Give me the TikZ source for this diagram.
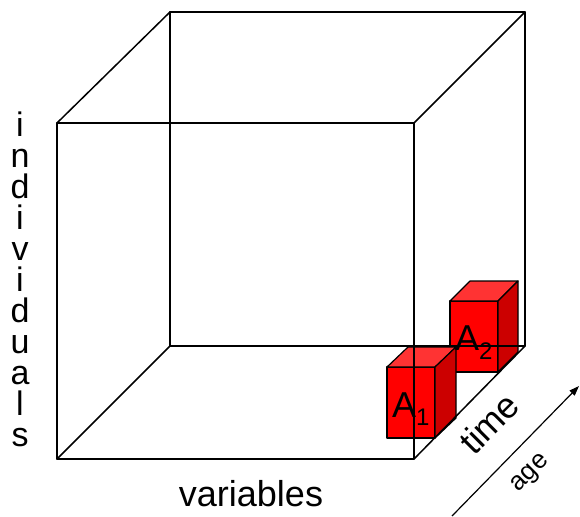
\documentclass[tikz,border=0pt]{standalone}
\usepackage{fontspec}
\setmainfont{Liberation Sans}
\usetikzlibrary{arrows.meta}
\definecolor{cubefront}{RGB}{255,0,0}
\definecolor{cubetop}{RGB}{255,51,51}
\definecolor{cubeside}{RGB}{204,0,0}
\begin{document}
\begin{tikzpicture}[x=1pt,y=-1pt,
  edge/.style={line width=1.5pt, line cap=round, line join=round},
  boxline/.style={draw=black, line width=1.2pt, line join=round},
  lbl/.style={inner sep=0pt, outer sep=0pt}]
\useasboundingbox (0,0) rectangle (580,516);

% ---- small cube A2 ----
\coordinate (a2f1) at (450,301); \coordinate (a2f2) at (498,301);
\coordinate (a2f3) at (498,372); \coordinate (a2f4) at (450,372);
\coordinate (a2b1) at (470,281); \coordinate (a2b2) at (518,281);
\coordinate (a2b3) at (518,352);
\filldraw[boxline, fill=cubefront] (a2f1) -- (a2f2) -- (a2f3) -- (a2f4) -- cycle;
\filldraw[boxline, fill=cubetop] (a2f1) -- (a2b1) -- (a2b2) -- (a2f2) -- cycle;
\filldraw[boxline, fill=cubeside] (a2f2) -- (a2b2) -- (a2b3) -- (a2f3) -- cycle;

% ---- small cube A1 ----
\coordinate (a1f1) at (387,367); \coordinate (a1f2) at (435,367);
\coordinate (a1f3) at (435,438); \coordinate (a1f4) at (387,438);
\coordinate (a1b1) at (408,347); \coordinate (a1b2) at (456,347);
\coordinate (a1b3) at (456,418);
\filldraw[boxline, fill=cubefront] (a1f1) -- (a1f2) -- (a1f3) -- (a1f4) -- cycle;
\filldraw[boxline, fill=cubetop] (a1f1) -- (a1b1) -- (a1b2) -- (a1f2) -- cycle;
\filldraw[boxline, fill=cubeside] (a1f2) -- (a1b2) -- (a1b3) -- (a1f3) -- cycle;

% ---- big wireframe cube ----
\coordinate (F1) at (57,123);  \coordinate (F2) at (414,123);
\coordinate (F3) at (414,459); \coordinate (F4) at (57,459);
\coordinate (B1) at (170,12);  \coordinate (B2) at (525,12);
\coordinate (B3) at (525,346); \coordinate (B4) at (170,346);
\draw[edge] (F1) -- (F2) -- (F3) -- (F4) -- cycle;
\draw[edge] (B1) -- (B2) -- (B3) -- (B4) -- cycle;
\draw[edge] (F1) -- (B1);
\draw[edge] (F2) -- (B2);
\draw[edge] (F3) -- (B3);
\draw[edge] (F4) -- (B4);

% ---- labels on small cubes ----
\node[lbl, anchor=base west, font=\fontsize{36}{36}\selectfont] (A1) at (392,417)
  {A\lower8pt\hbox{\fontsize{24}{24}\selectfont 1}};
\node[lbl, anchor=base west, font=\fontsize{36}{36}\selectfont] (A2) at (455,350)
  {A\lower9pt\hbox{\fontsize{24}{24}\selectfont 2}};

% ---- axis labels ----
\node[lbl, anchor=base, font=\fontsize{36}{36}\selectfont] (vars) at (251,506) {variables};
\node[lbl, anchor=north, align=center, font=\fontsize{34}{31}\selectfont] (indiv) at (20,112)
  {i\\n\\d\\i\\v\\i\\d\\u\\a\\l\\s};
\node[lbl, rotate=45, font=\fontsize{36}{36}\selectfont] (time) at (489,423) {time};
\node[lbl, rotate=45, font=\fontsize{26}{26}\selectfont] (age) at (531,474) {age};

% ---- age arrow ----
\coordinate (ageS) at (452,516);
\coordinate (ageE) at (579,386);
\draw[line width=1.2pt, -{Triangle[length=10pt,width=7pt]}] (ageS) -- (ageE);
\end{tikzpicture}
\end{document}
